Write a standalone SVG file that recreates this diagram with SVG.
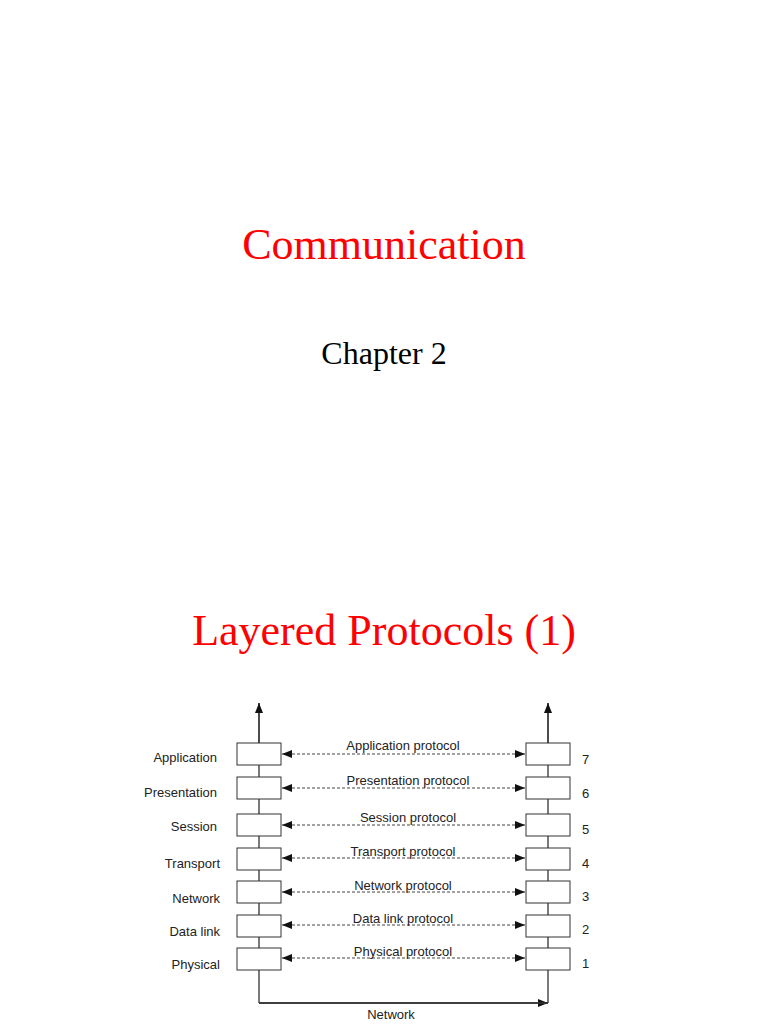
<svg xmlns="http://www.w3.org/2000/svg" width="768" height="1024" viewBox="0 0 768 1024">
<style>
.t{font-family:"Liberation Serif",serif}
.s{font-family:"Liberation Sans",Arial,sans-serif;font-size:13px;fill:#222}
.b{fill:#fff;stroke:#333;stroke-width:1}
.d{stroke:#444;stroke-width:1;stroke-dasharray:3,2;fill:none}
.l{stroke:#333;stroke-width:1.3;fill:none}
</style>
<defs>
<marker id="a" markerWidth="10" markerHeight="8" refX="10" refY="4" orient="auto-start-reverse" markerUnits="userSpaceOnUse"><path d="M0,0L10,4L0,8z" fill="#111"/></marker>
</defs>
<rect width="768" height="1024" fill="#fff"/>
<text class="t" x="384" y="259" text-anchor="middle" font-size="44" fill="#ff0000">Communication</text>
<text class="t" x="384" y="364" text-anchor="middle" font-size="32" fill="#000">Chapter 2</text>
<text class="t" x="384" y="645" text-anchor="middle" font-size="44" fill="#ff0000">Layered Protocols (1)</text>
<g id="connectors">
<path class="l" d="M259,1003V703M548,1003V703M259,1003H548" marker-end="url(#a)"/>
<line class="l" x1="259" y1="760" x2="259" y2="703" marker-end="url(#a)"/>
<line class="l" x1="548" y1="760" x2="548" y2="703" marker-end="url(#a)"/>
<line class="l" x1="259" y1="1003" x2="548" y2="1003"/>
<g class="d">
<line x1="282" y1="754" x2="525" y2="754" marker-start="url(#a)" marker-end="url(#a)"/>
<line x1="282" y1="788" x2="525" y2="788" marker-start="url(#a)" marker-end="url(#a)"/>
<line x1="282" y1="825" x2="525" y2="825" marker-start="url(#a)" marker-end="url(#a)"/>
<line x1="282" y1="858" x2="525" y2="858" marker-start="url(#a)" marker-end="url(#a)"/>
<line x1="282" y1="892" x2="525" y2="892" marker-start="url(#a)" marker-end="url(#a)"/>
<line x1="282" y1="925" x2="525" y2="925" marker-start="url(#a)" marker-end="url(#a)"/>
<line x1="282" y1="958" x2="525" y2="958" marker-start="url(#a)" marker-end="url(#a)"/>
</g>
</g>
<g id="layer7"><rect class="b" x="237" y="743" width="44" height="22"/><rect class="b" x="526" y="743" width="44" height="22"/><text class="s" x="217" y="762" text-anchor="end">Application</text><text class="s" x="582" y="764">7</text><text class="s" x="403" y="750" text-anchor="middle">Application protocol</text></g>
<g id="layer6"><rect class="b" x="237" y="777" width="44" height="22"/><rect class="b" x="526" y="777" width="44" height="22"/><text class="s" x="217" y="797" text-anchor="end">Presentation</text><text class="s" x="582" y="798">6</text><text class="s" x="408" y="785" text-anchor="middle">Presentation protocol</text></g>
<g id="layer5"><rect class="b" x="237" y="814" width="44" height="22"/><rect class="b" x="526" y="814" width="44" height="22"/><text class="s" x="217" y="831" text-anchor="end">Session</text><text class="s" x="582" y="834">5</text><text class="s" x="408" y="822" text-anchor="middle">Session protocol</text></g>
<g id="layer4"><rect class="b" x="237" y="848" width="44" height="22"/><rect class="b" x="526" y="848" width="44" height="22"/><text class="s" x="220" y="868" text-anchor="end">Transport</text><text class="s" x="582" y="868">4</text><text class="s" x="403" y="856" text-anchor="middle">Transport protocol</text></g>
<g id="layer3"><rect class="b" x="237" y="881" width="44" height="22"/><rect class="b" x="526" y="881" width="44" height="22"/><text class="s" x="220" y="903" text-anchor="end">Network</text><text class="s" x="582" y="901">3</text><text class="s" x="403" y="890" text-anchor="middle">Network protocol</text></g>
<g id="layer2"><rect class="b" x="237" y="915" width="44" height="22"/><rect class="b" x="526" y="915" width="44" height="22"/><text class="s" x="220" y="936" text-anchor="end">Data link</text><text class="s" x="582" y="934">2</text><text class="s" x="403" y="923" text-anchor="middle">Data link protocol</text></g>
<g id="layer1"><rect class="b" x="237" y="948" width="44" height="22"/><rect class="b" x="526" y="948" width="44" height="22"/><text class="s" x="220" y="969" text-anchor="end">Physical</text><text class="s" x="582" y="968">1</text><text class="s" x="403" y="956" text-anchor="middle">Physical protocol</text></g>
<text class="s" x="391" y="1019" text-anchor="middle">Network</text>
</svg>
